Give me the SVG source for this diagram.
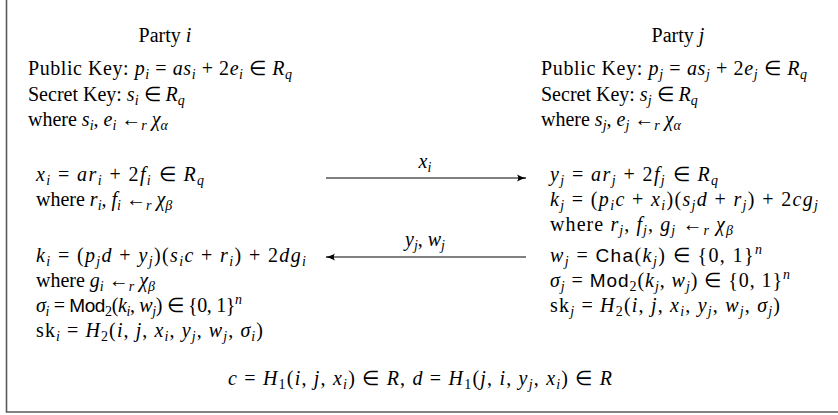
<svg xmlns="http://www.w3.org/2000/svg" width="838" height="415" viewBox="0 0 838 415">
<style>
.t{font-family:"Liberation Serif","Times New Roman",serif;font-size:20px;fill:#000}
.i{font-style:italic}
.sb{font-size:14px}
.sf{font-family:"Liberation Sans",Arial,sans-serif;font-size:19px}
.c{text-anchor:middle}
.frame{stroke:#5a5a5a;stroke-width:1.6;fill:none}
.arr{stroke:#000;stroke-width:1;fill:none}
</style>
<defs>
<marker id="ah" viewBox="0 0 10 8" refX="9" refY="4" markerWidth="10" markerHeight="8" markerUnits="userSpaceOnUse" orient="auto-start-reverse">
<path d="M0,0.5 Q5,3.5 9.5,4 Q5,4.5 0,7.5 Q2.5,4 0,0.5 Z" fill="#000"/>
</marker>
</defs>
<g id="frame"><path class="frame" d="M6.5,0 V412 H838"/></g>

<g id="party-i">
<text class="t c" x="165" y="42">Party <tspan class="i">i</tspan></text>
<text class="t" x="28" y="75" textLength="264">Public Key: <tspan class="i">p</tspan><tspan class="sb i" dy="4">i</tspan><tspan dy="-4"> = </tspan><tspan class="i">as</tspan><tspan class="sb i" dy="4">i</tspan><tspan dy="-4"> + 2</tspan><tspan class="i">e</tspan><tspan class="sb i" dy="4">i</tspan><tspan dy="-4"> ∈ </tspan><tspan class="i">R</tspan><tspan class="sb i" dy="4">q</tspan></text>
<text class="t" x="28" y="101">Secret Key: <tspan class="i">s</tspan><tspan class="sb i" dy="4">i</tspan><tspan dy="-4"> ∈ </tspan><tspan class="i">R</tspan><tspan class="sb i" dy="4">q</tspan></text>
<text class="t" x="28" y="126">where <tspan class="i">s</tspan><tspan class="sb i" dy="4">i</tspan><tspan dy="-4">, </tspan><tspan class="i">e</tspan><tspan class="sb i" dy="4">i</tspan><tspan dy="-4"> ←</tspan><tspan class="sb i" dy="4">r</tspan><tspan dy="-4"> </tspan><tspan class="i">χ</tspan><tspan class="sb i" dy="4">α</tspan></text>
<text class="t" x="36" y="181" textLength="168"><tspan class="i">x</tspan><tspan class="sb i" dy="4">i</tspan><tspan dy="-4"> = </tspan><tspan class="i">ar</tspan><tspan class="sb i" dy="4">i</tspan><tspan dy="-4"> + 2</tspan><tspan class="i">f</tspan><tspan class="sb i" dy="4">i</tspan><tspan dy="-4"> ∈ </tspan><tspan class="i">R</tspan><tspan class="sb i" dy="4">q</tspan></text>
<text class="t" x="36" y="206">where <tspan class="i">r</tspan><tspan class="sb i" dy="4">i</tspan><tspan dy="-4">, </tspan><tspan class="i">f</tspan><tspan class="sb i" dy="4">i</tspan><tspan dy="-4"> ←</tspan><tspan class="sb i" dy="4">r</tspan><tspan dy="-4"> </tspan><tspan class="i">χ</tspan><tspan class="sb i" dy="4">β</tspan></text>
<text class="t" x="36" y="262" textLength="270"><tspan class="i">k</tspan><tspan class="sb i" dy="4">i</tspan><tspan dy="-4"> = (</tspan><tspan class="i">p</tspan><tspan class="sb i" dy="4">j</tspan><tspan class="i" dy="-4">d</tspan><tspan> + </tspan><tspan class="i">y</tspan><tspan class="sb i" dy="4">j</tspan><tspan dy="-4">)(</tspan><tspan class="i">s</tspan><tspan class="sb i" dy="4">i</tspan><tspan class="i" dy="-4">c</tspan><tspan> + </tspan><tspan class="i">r</tspan><tspan class="sb i" dy="4">i</tspan><tspan dy="-4">) + 2</tspan><tspan class="i">dg</tspan><tspan class="sb i" dy="4">i</tspan></text>
<text class="t" x="36" y="287">where <tspan class="i">g</tspan><tspan class="sb i" dy="4">i</tspan><tspan dy="-4"> ←</tspan><tspan class="sb i" dy="4">r</tspan><tspan dy="-4"> </tspan><tspan class="i">χ</tspan><tspan class="sb i" dy="4">β</tspan></text>
<text class="t" x="36" y="312" textLength="206"><tspan class="i">σ</tspan><tspan class="sb i" dy="4">i</tspan><tspan dy="-4"> = </tspan><tspan class="sf">Mod</tspan><tspan class="sb" dy="4">2</tspan><tspan dy="-4">(</tspan><tspan class="i">k</tspan><tspan class="sb i" dy="4">i</tspan><tspan dy="-4">, </tspan><tspan class="i">w</tspan><tspan class="sb i" dy="4">j</tspan><tspan dy="-4">) ∈ {0, 1}</tspan><tspan class="sb i" dy="-8">n</tspan></text>
<text class="t" x="36" y="337" textLength="227">sk<tspan class="sb i" dy="4">i</tspan><tspan dy="-4"> = </tspan><tspan class="i">H</tspan><tspan class="sb" dy="4">2</tspan><tspan dy="-4">(</tspan><tspan class="i">i</tspan><tspan>, </tspan><tspan class="i">j</tspan><tspan>, </tspan><tspan class="i">x</tspan><tspan class="sb i" dy="4">i</tspan><tspan dy="-4">, </tspan><tspan class="i">y</tspan><tspan class="sb i" dy="4">j</tspan><tspan dy="-4">, </tspan><tspan class="i">w</tspan><tspan class="sb i" dy="4">j</tspan><tspan dy="-4">, </tspan><tspan class="i">σ</tspan><tspan class="sb i" dy="4">i</tspan><tspan dy="-4">)</tspan></text>
</g>

<g id="party-j">
<text class="t c" x="678" y="42">Party <tspan class="i">j</tspan></text>
<text class="t" x="541" y="75" textLength="266">Public Key: <tspan class="i">p</tspan><tspan class="sb i" dy="4">j</tspan><tspan dy="-4"> = </tspan><tspan class="i">as</tspan><tspan class="sb i" dy="4">j</tspan><tspan dy="-4"> + 2</tspan><tspan class="i">e</tspan><tspan class="sb i" dy="4">j</tspan><tspan dy="-4"> ∈ </tspan><tspan class="i">R</tspan><tspan class="sb i" dy="4">q</tspan></text>
<text class="t" x="541" y="101">Secret Key: <tspan class="i">s</tspan><tspan class="sb i" dy="4">j</tspan><tspan dy="-4"> ∈ </tspan><tspan class="i">R</tspan><tspan class="sb i" dy="4">q</tspan></text>
<text class="t" x="541" y="126">where <tspan class="i">s</tspan><tspan class="sb i" dy="4">j</tspan><tspan dy="-4">, </tspan><tspan class="i">e</tspan><tspan class="sb i" dy="4">j</tspan><tspan dy="-4"> ←</tspan><tspan class="sb i" dy="4">r</tspan><tspan dy="-4"> </tspan><tspan class="i">χ</tspan><tspan class="sb i" dy="4">α</tspan></text>
<text class="t" x="550" y="181" textLength="168"><tspan class="i">y</tspan><tspan class="sb i" dy="4">j</tspan><tspan dy="-4"> = </tspan><tspan class="i">ar</tspan><tspan class="sb i" dy="4">j</tspan><tspan dy="-4"> + 2</tspan><tspan class="i">f</tspan><tspan class="sb i" dy="4">j</tspan><tspan dy="-4"> ∈ </tspan><tspan class="i">R</tspan><tspan class="sb i" dy="4">q</tspan></text>
<text class="t" x="550" y="206" textLength="268"><tspan class="i">k</tspan><tspan class="sb i" dy="4">j</tspan><tspan dy="-4"> = (</tspan><tspan class="i">p</tspan><tspan class="sb i" dy="4">i</tspan><tspan class="i" dy="-4">c</tspan><tspan> + </tspan><tspan class="i">x</tspan><tspan class="sb i" dy="4">i</tspan><tspan dy="-4">)(</tspan><tspan class="i">s</tspan><tspan class="sb i" dy="4">j</tspan><tspan class="i" dy="-4">d</tspan><tspan> + </tspan><tspan class="i">r</tspan><tspan class="sb i" dy="4">j</tspan><tspan dy="-4">) + 2</tspan><tspan class="i">cg</tspan><tspan class="sb i" dy="4">j</tspan></text>
<text class="t" x="550" y="231" textLength="183">where <tspan class="i">r</tspan><tspan class="sb i" dy="4">j</tspan><tspan dy="-4">, </tspan><tspan class="i">f</tspan><tspan class="sb i" dy="4">j</tspan><tspan dy="-4">, </tspan><tspan class="i">g</tspan><tspan class="sb i" dy="4">j</tspan><tspan dy="-4"> ←</tspan><tspan class="sb i" dy="4">r</tspan><tspan dy="-4"> </tspan><tspan class="i">χ</tspan><tspan class="sb i" dy="4">β</tspan></text>
<text class="t" x="550" y="262" textLength="212"><tspan class="i">w</tspan><tspan class="sb i" dy="4">j</tspan><tspan dy="-4"> = </tspan><tspan class="sf">Cha</tspan><tspan>(</tspan><tspan class="i">k</tspan><tspan class="sb i" dy="4">j</tspan><tspan dy="-4">) ∈ {0, 1}</tspan><tspan class="sb i" dy="-8">n</tspan></text>
<text class="t" x="550" y="287" textLength="240"><tspan class="i">σ</tspan><tspan class="sb i" dy="4">j</tspan><tspan dy="-4"> = </tspan><tspan class="sf">Mod</tspan><tspan class="sb" dy="4">2</tspan><tspan dy="-4">(</tspan><tspan class="i">k</tspan><tspan class="sb i" dy="4">j</tspan><tspan dy="-4">, </tspan><tspan class="i">w</tspan><tspan class="sb i" dy="4">j</tspan><tspan dy="-4">) ∈ {0, 1}</tspan><tspan class="sb i" dy="-8">n</tspan></text>
<text class="t" x="550" y="312" textLength="230">sk<tspan class="sb i" dy="4">j</tspan><tspan dy="-4"> = </tspan><tspan class="i">H</tspan><tspan class="sb" dy="4">2</tspan><tspan dy="-4">(</tspan><tspan class="i">i</tspan><tspan>, </tspan><tspan class="i">j</tspan><tspan>, </tspan><tspan class="i">x</tspan><tspan class="sb i" dy="4">i</tspan><tspan dy="-4">, </tspan><tspan class="i">y</tspan><tspan class="sb i" dy="4">j</tspan><tspan dy="-4">, </tspan><tspan class="i">w</tspan><tspan class="sb i" dy="4">j</tspan><tspan dy="-4">, </tspan><tspan class="i">σ</tspan><tspan class="sb i" dy="4">j</tspan><tspan dy="-4">)</tspan></text>
</g>

<g id="hash-defs">
<text class="t c" x="420" y="385" textLength="384"><tspan class="i">c</tspan><tspan> = </tspan><tspan class="i">H</tspan><tspan class="sb" dy="4">1</tspan><tspan dy="-4">(</tspan><tspan class="i">i</tspan><tspan>, </tspan><tspan class="i">j</tspan><tspan>, </tspan><tspan class="i">x</tspan><tspan class="sb i" dy="4">i</tspan><tspan dy="-4">) ∈ </tspan><tspan class="i">R</tspan><tspan>, </tspan><tspan class="i">d</tspan><tspan> = </tspan><tspan class="i">H</tspan><tspan class="sb" dy="4">1</tspan><tspan dy="-4">(</tspan><tspan class="i">j</tspan><tspan>, </tspan><tspan class="i">i</tspan><tspan>, </tspan><tspan class="i">y</tspan><tspan class="sb i" dy="4">j</tspan><tspan dy="-4">, </tspan><tspan class="i">x</tspan><tspan class="sb i" dy="4">i</tspan><tspan dy="-4">) ∈ </tspan><tspan class="i">R</tspan></text>
</g>

<g id="connectors">
<line class="arr" x1="326" y1="178" x2="526" y2="178" marker-end="url(#ah)"/>
<text class="t c" x="425" y="168"><tspan class="i">x</tspan><tspan class="sb i" dy="4">i</tspan></text>
<line class="arr" x1="526" y1="257" x2="326" y2="257" marker-end="url(#ah)"/>
<text class="t c" x="425" y="246"><tspan class="i">y</tspan><tspan class="sb i" dy="4">j</tspan><tspan dy="-4">, </tspan><tspan class="i">w</tspan><tspan class="sb i" dy="4">j</tspan></text>
</g>
</svg>
